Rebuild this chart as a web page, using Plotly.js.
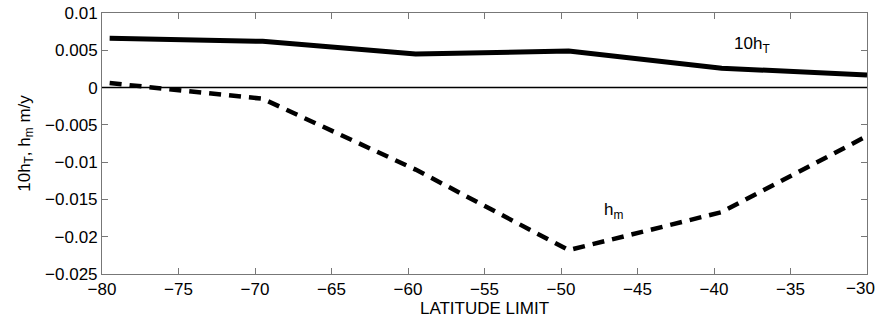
<!DOCTYPE html>
<html><head><meta charset="utf-8">
<script src="https://cdn.plot.ly/plotly-3.0.1.min.js"></script>
<style>body{margin:0;background:#fff}#c{width:878px;height:320px}</style>
</head><body><div id="c"></div>
<script>
const latitude = [-79.5, -69.5, -59.5, -49.5, -39.5, -30];
const tenHT = [0.0066, 0.0062, 0.0045, 0.0049, 0.0026, 0.0017];
const hm = [0.0006, -0.0015, -0.011, -0.0218, -0.0167, -0.0065];
const xTicks = [-80, -75, -70, -65, -60, -55, -50, -45, -40, -35, -30];
const yTicks = [0.01, 0.005, 0, -0.005, -0.01, -0.015, -0.02, -0.025];
const yTickText = ['0.01', '0.005', '0', '\u22120.005', '\u22120.01', '\u22120.015', '\u22120.02', '\u22120.025'];
const xTickText = xTicks.map(v => v < 0 ? '\u2212' + Math.abs(v) : String(v));
// the last x label is drawn as a right-aligned note so it stays inside the page, as in the reference
const lastXLabel = xTickText[xTickText.length - 1];
const axisXText = xTickText.slice(0, -1).concat(['']);

const font = {family: 'Liberation Sans, Arial, sans-serif', size: 17, color: '#000'};
const traces = [
  {x: latitude, y: tenHT, mode: 'lines', line: {color: '#000', width: 5}, hoverinfo: 'none'},
  {x: latitude, y: hm, mode: 'lines', line: {color: '#000', width: 4.5, dash: '12px,8px'}, hoverinfo: 'none'}
];
const axisCommon = {showline: true, linecolor: '#777', linewidth: 1, mirror: 'ticks', ticks: 'inside',
  ticklen: 6, tickcolor: '#777', showgrid: false, zeroline: false, tickfont: font};
const layout = {
  width: 878, height: 320, showlegend: false,
  margin: {l: 102, r: 11, t: 13, b: 46},
  paper_bgcolor: '#fff', plot_bgcolor: '#fff', font: font,
  xaxis: Object.assign({}, axisCommon, {range: [-80, -30], tickvals: xTicks, ticktext: axisXText,
    title: {text: 'LATITUDE LIMIT', font: font, standoff: 0}}),
  yaxis: Object.assign({}, axisCommon, {range: [-0.025, 0.01], tickvals: yTicks, ticktext: yTickText,
    title: {text: '10h<sub>T</sub>, h<sub>m</sub> m/y', font: font, standoff: 10}}),
  shapes: [{type: 'line', xref: 'paper', x0: 0, x1: 1, yref: 'y', y0: 0, y1: 0, line: {color: '#000', width: 1.5}}],
  annotations: [
    {x: -37.5, y: 0.0057, xref: 'x', yref: 'y', text: '10h<sub>T</sub>', showarrow: false, font: font},
    {x: -46.6, y: -0.0165, xref: 'x', yref: 'y', text: 'h<sub>m</sub>', showarrow: false, font: font},
    {x: 1, y: 0, xref: 'paper', yref: 'paper', xanchor: 'right', yanchor: 'top', xshift: 9, yshift: -4,
     text: lastXLabel, showarrow: false, font: font, borderpad: 0}
  ]
};
Plotly.newPlot('c', traces, layout, {staticPlot: true});
</script></body></html>
